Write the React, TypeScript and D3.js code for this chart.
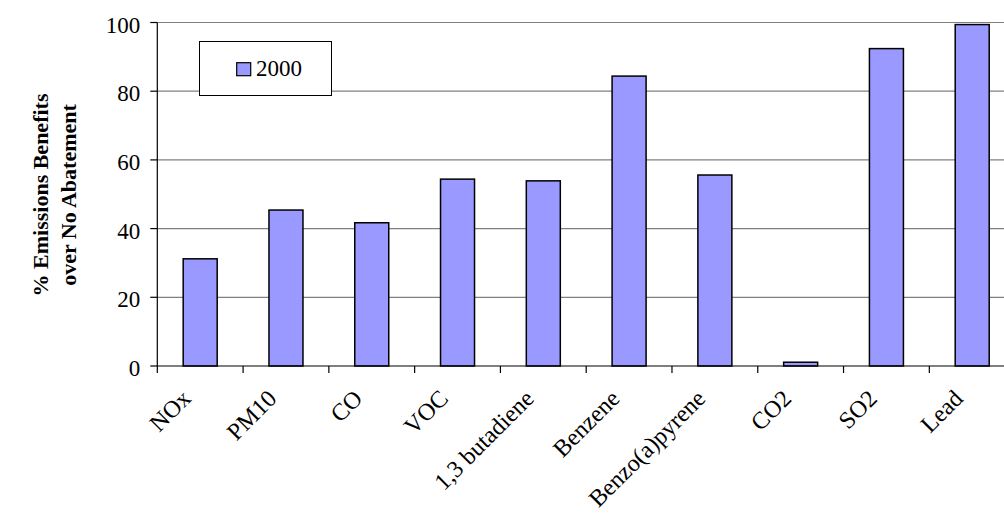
import React from "react";
import * as d3 from "d3";

const categories = ["NOx", "PM10", "CO", "VOC", "1,3 butadiene", "Benzene", "Benzo(a)pyrene", "CO2", "SO2", "Lead"];
const values2000 = [31.2, 45.4, 41.7, 54.4, 53.9, 84.4, 55.6, 1.1, 92.4, 99.4];
const yTicks = [0, 20, 40, 60, 80, 100];
const seriesName = "2000";

const W = 1004;
const H = 513;
const FONT = "'Liberation Serif', 'Times New Roman', serif";
const BAR_FILL = "#9999FF";
const TICK_SIZE = 23;
const CAT_SIZE = 24;

export default function App() {
  const x0 = 157.3;
  const band = 85.78;
  const xb = d3.scaleBand<string>().domain(categories).range([x0, x0 + band * categories.length]);
  const y = d3.scaleLinear().domain([0, 100]).range([366, 22.5]);

  const barW = 34;

  return (
    <svg width={W} height={H} style={{ position: "absolute", left: 0, top: 0, background: "#fff" }}>
      {/* horizontal gridlines */}
      {yTicks.filter((t) => t > 0).map((t) => (
        <line key={"g" + t} x1={x0} x2={W} y1={y(t)} y2={y(t)} stroke="#808080" strokeWidth={1.2} />
      ))}

      {/* bars */}
      {categories.map((c, i) => {
        const cx = (xb(c) as number) + xb.bandwidth() / 2;
        return (
          <rect
            key={c}
            x={cx - barW / 2}
            y={y(values2000[i])}
            width={barW}
            height={y(0) - y(values2000[i])}
            fill={BAR_FILL}
            stroke="#000"
            strokeWidth={1.5}
          />
        );
      })}

      {/* y axis */}
      <line x1={x0} x2={x0} y1={y(100)} y2={y(0)} stroke="#000" strokeWidth={1.2} />
      {yTicks.map((t) => (
        <g key={"yt" + t}>
          <line x1={x0 - 7} x2={x0} y1={y(t)} y2={y(t)} stroke="#000" strokeWidth={1.2} />
          <text x={x0 - 17} y={y(t) + 10} textAnchor="end" fontFamily={FONT} fontSize={TICK_SIZE} fill="#000">
            {t}
          </text>
        </g>
      ))}

      {/* x axis */}
      <line x1={x0} x2={W} y1={y(0)} y2={y(0)} stroke="#000" strokeWidth={1.2} />
      {categories.map((c) => (
        <line
          key={"xt" + c}
          x1={xb(c) as number}
          x2={xb(c) as number}
          y1={y(0)}
          y2={y(0) + 7}
          stroke="#000"
          strokeWidth={1.2}
        />
      ))}
      {categories.map((c) => {
        const cx = (xb(c) as number) + xb.bandwidth() / 2;
        return (
          <text
            key={"xl" + c}
            transform={`translate(${cx - 8},${y(0) + 34}) rotate(-45)`}
            textAnchor="end"
            fontFamily={FONT}
            fontSize={CAT_SIZE}
            fill="#000"
          >
            {c}
          </text>
        );
      })}

      {/* y axis title */}
      <g transform="translate(0,195) rotate(-90)" fontFamily={FONT} fontSize={22} fontWeight="bold" fill="#000">
        <text x={0} y={48} textAnchor="middle">% Emissions Benefits</text>
        <text x={0} y={76} textAnchor="middle">over No Abatement</text>
      </g>

      {/* legend */}
      <rect x={199.5} y={41.5} width={132} height={54} fill="#fff" stroke="#000" strokeWidth={1} />
      <rect x={236.7} y={62.7} width={14} height={13} fill={BAR_FILL} stroke="#000" strokeWidth={1.2} />
      <text x={256} y={76} fontFamily={FONT} fontSize={TICK_SIZE} fill="#000">
        {seriesName}
      </text>
    </svg>
  );
}
